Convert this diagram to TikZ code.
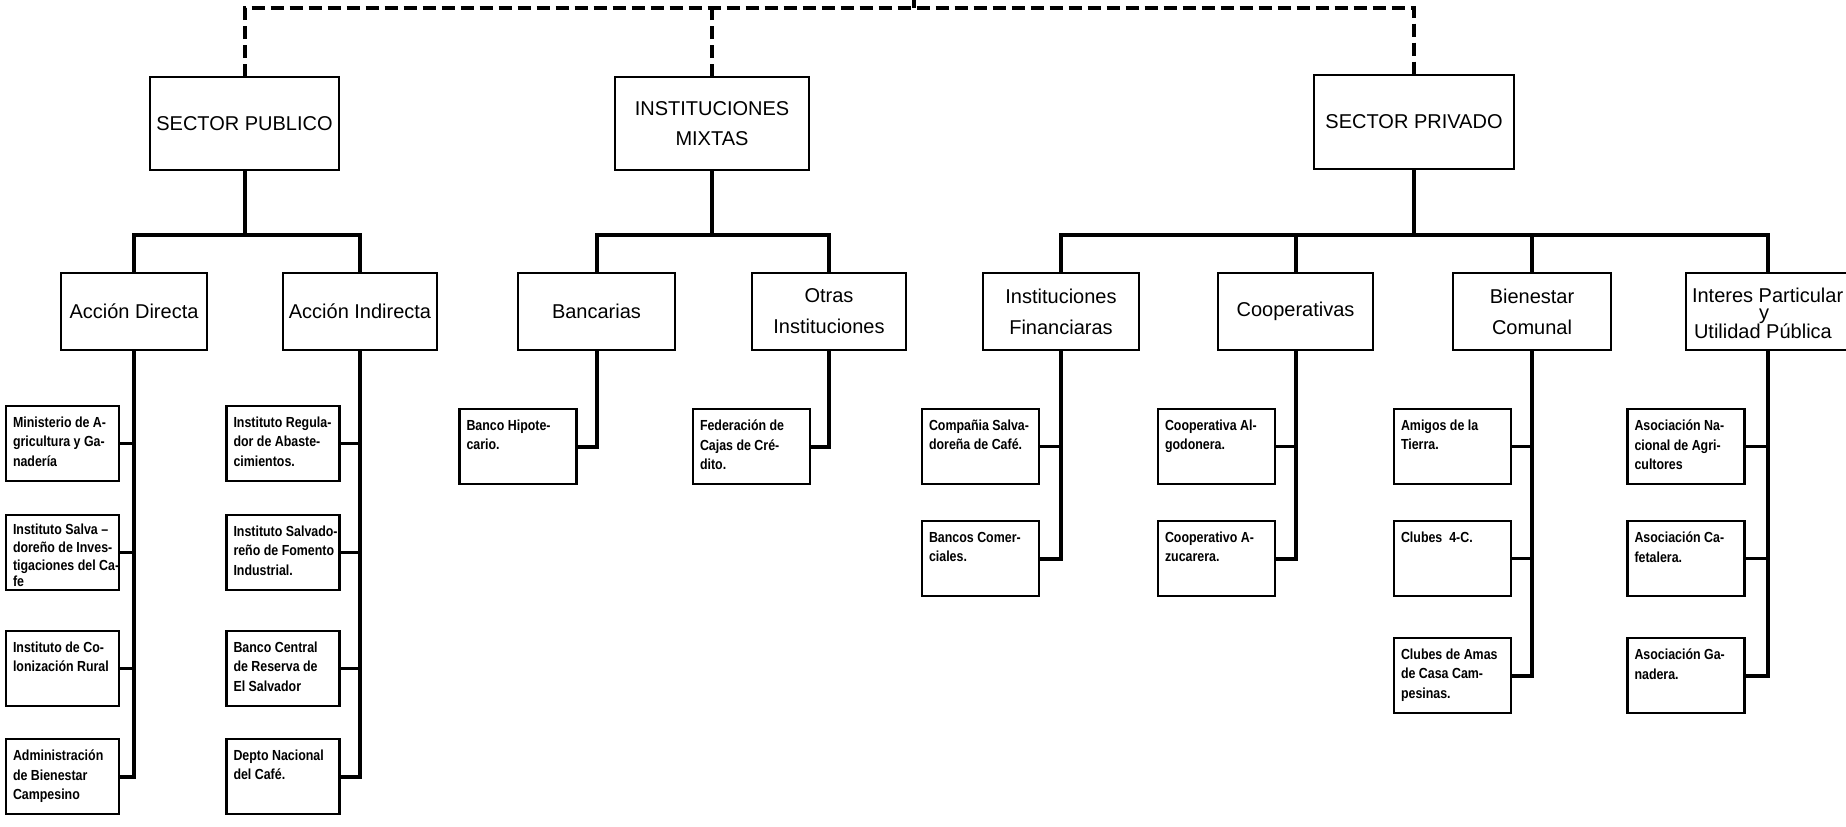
\documentclass[tikz,border=0pt]{standalone}
\usepackage{fontspec}
\setmainfont{Liberation Sans}
\newfontfamily\leaffont[FakeStretch=0.85]{Liberation Sans}
\begin{document}
\begin{tikzpicture}[x=0.5pt,y=-0.5pt,
  every node/.style={inner sep=0pt,outer sep=0pt},
  topbox/.style={draw,line width=1.4pt,align=center,font=\fontsize{10}{14.7}\selectfont},
  midbox/.style={draw,line width=1.4pt,align=center,minimum height=38.5pt,font=\fontsize{10}{15.5}\selectfont},
  leafbox/.style={draw,line width=1.2pt,minimum width=58.5pt,minimum height=37.5pt},
  publeaf/.style={leafbox,minimum width=56.5pt},
  leaftext/.style={anchor=north west,align=left,xshift=3.5pt,yshift=-5.5pt,
    font=\leaffont\bfseries\fontsize{7.3}{9.7}\selectfont},
  tightleaftext/.style={leaftext,yshift=1pt,font=\leaffont\bfseries\fontsize{7.3}{9}\selectfont},
  midtext/.style={anchor=base west,font=\fontsize{10}{12}\selectfont},
  link/.style={line width=2pt},
  stub/.style={line width=1.2pt},
  dashlink/.style={line width=2pt,dash pattern=on 6.5pt off 3pt}
]
\useasboundingbox (0,0) rectangle (1846,826);
\clip (0,0) rectangle (1846,826);

% level 1
\node[topbox,minimum width=94.5pt,minimum height=46.5pt] (sp) at (244.5,123.5) {SECTOR PUBLICO};
\node[topbox,minimum width=97pt,minimum height=46.5pt] (im) at (712,123.5) {INSTITUCIONES\\MIXTAS};
\node[topbox,minimum width=100pt,minimum height=47pt] (spr) at (1414,122) {SECTOR PRIVADO};

% level 2
\node[midbox,minimum width=73pt] (ad) at (134,311.5) {Acción Directa};
\node[midbox,minimum width=77pt] (ai) at (360,311.5) {Acción Indirecta};
\node[midbox,minimum width=78.5pt] (ban) at (596.5,311.5) {Bancarias};
\node[midbox,minimum width=77pt] (otr) at (829,311.5) {Otras\\Instituciones};
\node[midbox,minimum width=78pt] (fin) at (1061,311.5) {Instituciones\\Financiaras};
\node[midbox,minimum width=77.5pt] (coo) at (1295.5,311.5) {Cooperativas};
\node[midbox,minimum width=79pt] (bie) at (1532,311.5) {Bienestar\\Comunal};
\node[midbox,minimum width=82pt] (int) at (1768,311.5) {};
\node[midtext] (intA) at (1692,302) {Interes Particular};
\node[midtext] (intB) at (1759,319.5) {y};
\node[midtext] (intC) at (1694,338) {Utilidad Pública};

% leaves: Acción Directa
\node[publeaf] (ad1) at (62.5,443.5) {};
\node[publeaf] (ad2) at (62.5,552.5) {};
\node[publeaf] (ad3) at (62.5,668.5) {};
\node[publeaf] (ad4) at (62.5,776.5) {};
\node[leaftext] at (ad1.north west) {Ministerio de A-\\gricultura y Ga-\\nadería};
\node[tightleaftext] at (ad2.north west) {Instituto Salva –\\doreño de Inves-\\tigaciones del Ca-\\[-1pt]fe};
\node[leaftext] at (ad3.north west) {Instituto de Co-\\lonización Rural};
\node[leaftext] at (ad4.north west) {Administración\\de Bienestar\\Campesino};

% leaves: Acción Indirecta
\node[publeaf] (ai1) at (283,443.5) {};
\node[publeaf] (ai2) at (283,552.5) {};
\node[publeaf] (ai3) at (283,668.5) {};
\node[publeaf] (ai4) at (283,776.5) {};
\node[leaftext] at (ai1.north west) {Instituto Regula-\\dor de Abaste-\\cimientos.};
\node[leaftext] at (ai2.north west) {Instituto Salvado-\\reño de Fomento\\Industrial.};
\node[leaftext] at (ai3.north west) {Banco Central\\de Reserva de\\El Salvador};
\node[leaftext] at (ai4.north west) {Depto Nacional\\del Café.};

% leaves: Mixtas
\node[leafbox] (bh) at (518,446.5) {};
\node[leafbox] (fed) at (751.5,446.5) {};
\node[leaftext] at (bh.north west) {Banco Hipote-\\cario.};
\node[leaftext] at (fed.north west) {Federación de\\Cajas de Cré-\\dito.};

% leaves: Privado
\node[leafbox] (fin1) at (980.5,446.5) {};
\node[leafbox] (fin2) at (980.5,558.5) {};
\node[leaftext] at (fin1.north west) {Compañia Salva-\\doreña de Café.};
\node[leaftext] at (fin2.north west) {Bancos Comer-\\ciales.};
\node[leafbox] (coo1) at (1216.5,446.5) {};
\node[leafbox] (coo2) at (1216.5,558.5) {};
\node[leaftext] at (coo1.north west) {Cooperativa Al-\\godonera.};
\node[leaftext] at (coo2.north west) {Cooperativo A-\\zucarera.};
\node[leafbox] (bie1) at (1452.5,446.5) {};
\node[leafbox] (bie2) at (1452.5,558.5) {};
\node[leafbox] (bie3) at (1452.5,675.5) {};
\node[leaftext] at (bie1.north west) {Amigos de la\\Tierra.};
\node[leaftext] at (bie2.north west) {Clubes\ \ 4-C.};
\node[leaftext] at (bie3.north west) {Clubes de Amas\\de Casa Cam-\\pesinas.};
\node[leafbox] (int1) at (1686,446.5) {};
\node[leafbox] (int2) at (1686,558.5) {};
\node[leafbox] (int3) at (1686,675.5) {};
\node[leaftext] at (int1.north west) {Asociación Na-\\cional de Agri-\\cultores};
\node[leaftext] at (int2.north west) {Asociación Ca-\\fetalera.};
\node[leaftext] at (int3.north west) {Asociación Ga-\\nadera.};

% top dashed structure
\coordinate (top) at (914,0);
\coordinate (topbus) at (0,8);
\draw[dashlink] (sp.north) -- (sp.north |- topbus) -- (spr.north |- topbus) -- (spr.north);
\draw[dashlink] (im.north) -- (im.north |- topbus);
\draw[link] (top) -- (top |- topbus);

% level 1 -> level 2
\coordinate (bus) at (0,235);
\draw[link] (sp.south) -- (sp.south |- bus);
\draw[link] (ad.north) -- (ad.north |- bus) -- (ai.north |- bus) -- (ai.north);
\draw[link] (im.south) -- (im.south |- bus);
\draw[link] (ban.north) -- (ban.north |- bus) -- (otr.north |- bus) -- (otr.north);
\draw[link] (spr.south) -- (spr.south |- bus);
\draw[link] (fin.north) -- (fin.north |- bus) -- (int.north |- bus) -- (int.north);
\draw[link] (coo.north) -- (coo.north |- bus);
\draw[link] (bie.north) -- (bie.north |- bus);

% level 2 -> leaves
\draw[link] (ad.south) |- (ad4.east);
\foreach \i in {1,2,3} \draw[stub] (ad\i.east) -- (ad\i.east -| ad.south);
\draw[link] (ai.south) |- (ai4.east);
\foreach \i in {1,2,3} \draw[stub] (ai\i.east) -- (ai\i.east -| ai.south);
\draw[link] (ban.south) |- (bh.east);
\draw[link] (otr.south) |- (fed.east);
\draw[link] (fin.south) |- (fin2.east);
\draw[stub] (fin1.east) -- (fin1.east -| fin.south);
\draw[link] (coo.south) |- (coo2.east);
\draw[stub] (coo1.east) -- (coo1.east -| coo.south);
\draw[link] (bie.south) |- (bie3.east);
\foreach \i in {1,2} \draw[stub] (bie\i.east) -- (bie\i.east -| bie.south);
\draw[link] (int.south) |- (int3.east);
\foreach \i in {1,2} \draw[stub] (int\i.east) -- (int\i.east -| int.south);
\end{tikzpicture}
\end{document}
